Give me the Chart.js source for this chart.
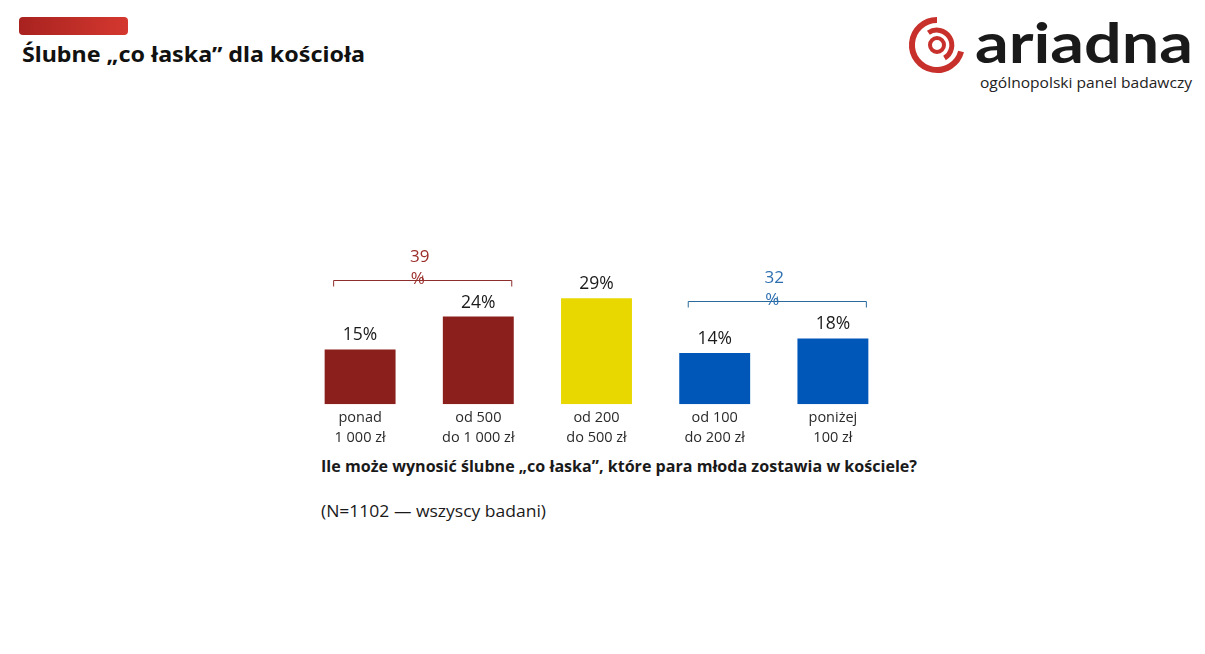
<!DOCTYPE html>
<html>
<head>
<meta charset="utf-8">
<script src="https://cdn.jsdelivr.net/npm/chart.js@4"></script>
<style>
  html,body{margin:0;padding:0;background:#fff;width:1205px;height:654px;overflow:hidden;}
  #wrap{position:absolute;left:301px;top:240px;width:591px;height:210px;}
  svg{position:absolute;left:0;top:0;}
</style>
</head>
<body>
<svg width="1205" height="654" xmlns="http://www.w3.org/2000/svg">
  <defs>
    <linearGradient id="rg" x1="0" x2="1" y1="0" y2="0">
      <stop offset="0" stop-color="#a8221f"/>
      <stop offset="1" stop-color="#d4382f"/>
    </linearGradient>
  </defs>
  <rect x="19" y="17" width="109" height="18" rx="4" fill="url(#rg)"/>
  <text x="22" y="62" font-family="Noto Sans, sans-serif" font-weight="700" font-size="21" fill="#111" textLength="343" lengthAdjust="spacingAndGlyphs">Ślubne „co łaska” dla kościoła</text>
  <!-- logo -->
  <g fill="none" stroke="#c8302c">
    <path d="M937 20 A25 25 0 1 0 961.1 51.5" stroke-width="6"/>
    <path d="M928.4 32.7 A15 15 0 1 1 944.5 58" stroke-width="5"/>
    <circle cx="937" cy="45" r="7" stroke-width="4"/>
  </g>
  <text x="975" y="63" font-family="Lato, sans-serif" font-weight="700" font-size="56" fill="#1a1a1a" textLength="218" lengthAdjust="spacingAndGlyphs">ariadna</text>
  <text x="980" y="88" font-family="Open Sans, sans-serif" font-size="14.5" fill="#222" textLength="212" lengthAdjust="spacingAndGlyphs">ogólnopolski panel badawczy</text>
  <text x="321" y="472" font-family="Open Sans, sans-serif" font-weight="700" font-size="16" fill="#1a1a1a" textLength="596" lengthAdjust="spacingAndGlyphs">Ile może wynosić ślubne „co łaska”, które para młoda zostawia w kościele?</text>
  <text x="321" y="517" font-family="Open Sans, sans-serif" font-size="16" fill="#1a1a1a" textLength="225" lengthAdjust="spacingAndGlyphs">(N=1102 — wszyscy badani)</text>
</svg>
<div id="wrap"><canvas id="c"></canvas></div>
<script>
const categories = [["ponad","1 000 zł"],["od 500","do 1 000 zł"],["od 200","do 500 zł"],["od 100","do 200 zł"],["poniżej","100 zł"]];
const values = [15, 24, 29, 14, 18];
const barColors = ["#8b1f1c","#8b1f1c","#e8d800","#0057b8","#0057b8"];
const groupStart = [0, 3];
const groupEnd = [1, 4];
const groupTotals = [39, 32];
const groupColors = ["#9b2d2a","#2e6fb0"];
const groupLineColors = ["#8e2e2c","#2b6a9c"];

const annot = {
  id:'annot',
  afterDatasetsDraw(chart){
    const ctx = chart.ctx;
    const meta = chart.getDatasetMeta(0);
    ctx.save();
    ctx.textAlign='center';
    ctx.textBaseline='middle';
    ctx.font='17.5px "Open Sans", sans-serif';
    ctx.fillStyle='#1a1a1a';
    meta.data.forEach((b,i)=>{
      ctx.fillText(values[i]+'%', b.x, b.y-14);
    });
    groupStart.forEach((s,g)=>{
      const e = groupEnd[g];
      const bs = meta.data[s], be = meta.data[e];
      let top = Infinity;
      for(let i=s;i<=e;i++) top = Math.min(top, meta.data[i].y);
      const y = Math.round(top-37)+0.5;
      const x1 = bs.x - bs.width/2 + 9;
      const x2 = be.x + be.width/2 - 2;
      const cx = (x1+x2)/2;
      ctx.strokeStyle = groupLineColors[g];
      ctx.lineWidth = 1;
      ctx.beginPath();
      ctx.moveTo(x1, y+6); ctx.lineTo(x1, y); ctx.lineTo(x2, y); ctx.lineTo(x2, y+6);
      ctx.moveTo(cx, y); ctx.lineTo(cx, y-5);
      ctx.stroke();
      ctx.fillStyle = groupColors[g];
      ctx.font='17px "Open Sans", sans-serif';
      ctx.fillText(String(groupTotals[g]), cx-3, y-23);
      ctx.fillText('%', cx-5, y-1);
    });
    ctx.restore();
  }
};

new Chart(document.getElementById('c'), {
  type:'bar',
  data:{
    labels: categories,
    datasets:[{data: values, backgroundColor: barColors, borderWidth:0, barPercentage:0.6, categoryPercentage:1}]
  },
  options:{
    responsive:true,
    maintainAspectRatio:false,
    animation:false,
    layout:{padding:{top:18,left:0,right:0,bottom:0}},
    plugins:{legend:{display:false},tooltip:{enabled:false}},
    scales:{
      y:{display:false,min:0,max:40},
      x:{
        grid:{display:false,drawTicks:false},
        border:{display:false},
        ticks:{color:'#2a2a2a',font:{family:'"Open Sans", sans-serif',size:14.5,lineHeight:1.38},padding:4,maxRotation:0,autoSkip:false},
        afterFit(scale){ scale.height = 45.7; }
      }
    }
  },
  plugins:[annot]
});
</script>
</body>
</html>
